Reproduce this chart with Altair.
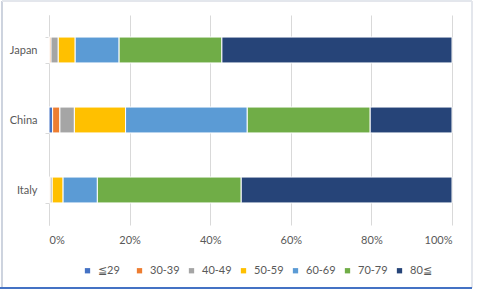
import altair as alt
import pandas as pd

countries = ["Japan", "China", "Italy"]
groups = ["≦29", "30-39", "40-49", "50-59", "60-69", "70-79", "80≦"]
colors = ["#4472C4", "#ED7D31", "#A5A5A5", "#FFC000", "#5B9BD5", "#70AD47", "#264478"]
japan = [0.1, 0.4, 1.8, 4.2, 10.9, 25.5, 57.1]
china = [0.9, 1.8, 3.6, 12.7, 30.2, 30.5, 20.3]
italy = [0.1, 0.2, 0.5, 2.7, 8.5, 35.7, 52.3]
x_ticks = [0, 0.2, 0.4, 0.6, 0.8, 1.0]

rows = []
for c, vals in zip(countries, [japan, china, italy]):
    for i, (g, v) in enumerate(zip(groups, vals)):
        rows.append({"country": c, "group": g, "idx": i, "value": v})
df = pd.DataFrame(rows)

FONT = "Lato"
TXT = "#595959"
GRID = "#d9d9d9"

bars = alt.Chart(df).mark_bar(stroke="white", strokeWidth=1).encode(
    x=alt.X("value:Q", stack="normalize",
            scale=alt.Scale(domain=[0, 1], nice=False),
            axis=alt.Axis(values=x_ticks, format="%", title=None, grid=True,
                          gridColor=GRID, domain=False, ticks=False,
                          labelColor=TXT, labelFontSize=11, labelFont=FONT,
                          labelPadding=9)),
    y=alt.Y("country:N", sort=countries,
            scale=alt.Scale(paddingInner=0.63, paddingOuter=0.315),
            axis=alt.Axis(title=None, grid=False, domainColor=GRID,
                          ticks=True, tickBand="extent", tickColor=GRID,
                          tickSize=4, labelColor=TXT, labelFontSize=11,
                          labelFont=FONT, labelPadding=8)),
    color=alt.Color("group:N", sort=groups,
                    scale=alt.Scale(domain=groups, range=colors),
                    legend=alt.Legend(title=None, orient="none",
                                      legendX=33, legendY=250,
                                      direction="horizontal", columns=7,
                                      gridAlign="all", symbolType="square",
                                      symbolSize=28, symbolStrokeWidth=0,
                                      labelFontSize=11, labelFont=FONT,
                                      labelColor=TXT, columnPadding=6,
                                      labelOffset=5)),
    order=alt.Order("idx:Q"),
)

frame_gray = alt.Chart(df).mark_rule(color="#cdd3de", strokeWidth=1).encode(
    x=alt.value(-47), y=alt.value(-14), y2=alt.value(273)
)
frame_right = alt.Chart(df).mark_rule(color="#e3e6ec", strokeWidth=1).encode(
    x=alt.value(423), y=alt.value(-14), y2=alt.value(273)
)
frame_top = alt.Chart(df).mark_rule(color="#e3e6ec", strokeWidth=1).encode(
    x=alt.value(-47), x2=alt.value(423), y=alt.value(-14)
)
frame_bottom = alt.Chart(df).mark_rule(color="#4472C4", strokeWidth=2).encode(
    x=alt.value(-49), x2=alt.value(423), y=alt.value(273)
)

chart = alt.layer(bars, frame_gray, frame_right, frame_top, frame_bottom).properties(
    width=403, height=210,
    autosize=alt.AutoSizeParams(type="none"),
    padding={"left": 49, "top": 15, "right": 28, "bottom": 65},
    background="white",
).configure_view(stroke=None)

chart.save("out.html", embed_options={"renderer": "svg", "actions": False})
